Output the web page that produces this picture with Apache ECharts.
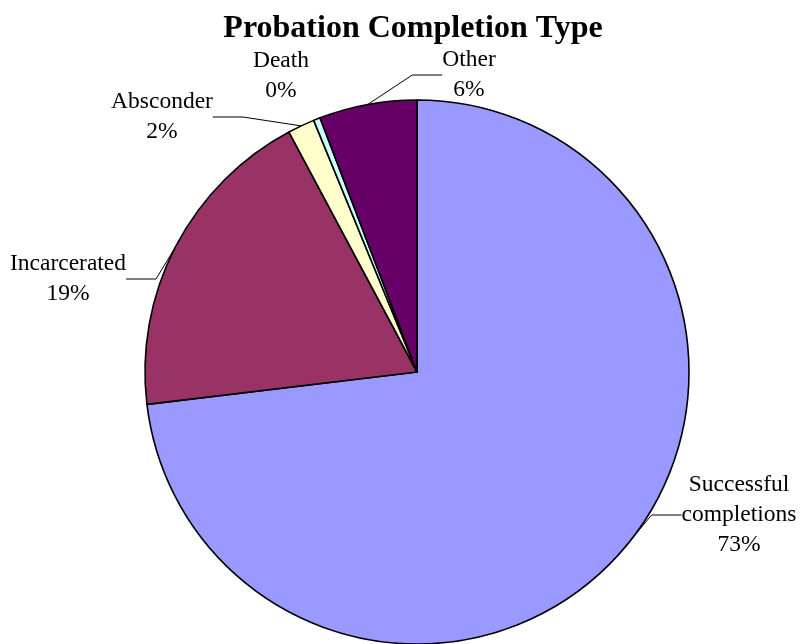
<!DOCTYPE html>
<html>
<head>
<meta charset="utf-8">
<script src="https://cdn.jsdelivr.net/npm/echarts@6/dist/echarts.min.js"></script>
<style>
  html, body { margin: 0; padding: 0; background: #fff; }
  #chart { width: 803px; height: 644px; }
</style>
</head>
<body>
<div id="chart"></div>
<script>
// Probation completion outcomes (share of completions, %)
const categories = ['Successful completions', 'Incarcerated', 'Absconder', 'Death', 'Other'];
const shares = [73.1, 19.1, 1.6, 0.4, 5.8];
const sliceColors = ['#9999FF', '#993366', '#FFFFCC', '#CCFFFF', '#660066'];
const labelNames = ['Successful\ncompletions', 'Incarcerated', 'Absconder', 'Death', 'Other'];

// Where each label sits (centre of the text block)
const labelSpots = [
  { x: 739, y: 515 },
  { x: 68, y: 279 },
  { x: 162, y: 117 },
  { x: 281, y: 76 },
  { x: 469, y: 75 }
];

const chart = echarts.init(document.getElementById('chart'), null, { renderer: 'canvas' });

chart.setOption({
  animation: false,
  backgroundColor: '#ffffff',
  title: {
    text: 'Probation Completion Type',
    left: 408,
    textAlign: 'center',
    top: 8,
    textStyle: {
      fontFamily: 'Liberation Serif',
      fontSize: 32,
      lineHeight: 32,
      fontWeight: 'bold',
      color: '#000'
    }
  },
  series: [{
    type: 'pie',
    center: [417, 372],
    radius: 272,
    startAngle: 90,
    clockwise: true,
    avoidLabelOverlap: false,
    data: categories.map((c, i) => ({
      name: c,
      value: shares[i],
      itemStyle: { color: sliceColors[i] },
      labelLine: { show: i !== 3 }
    })),
    itemStyle: { borderColor: '#000', borderWidth: 1.6 },
    label: {
      show: true,
      position: 'outside',
      fontFamily: 'Liberation Serif',
      fontSize: 23.5,
      lineHeight: 30,
      color: '#000',
      align: 'center',
      formatter: p => labelNames[p.dataIndex] + '\n' + Math.round(p.percent) + '%'
    },
    labelLine: {
      show: true,
      lineStyle: { color: '#000', width: 1 }
    },
    labelLayout: p => ({
      x: labelSpots[p.dataIndex].x,
      y: labelSpots[p.dataIndex].y,
      align: 'center',
      verticalAlign: 'middle'
    }),
    emphasis: { disabled: true }
  }]
});
</script>
</body>
</html>
